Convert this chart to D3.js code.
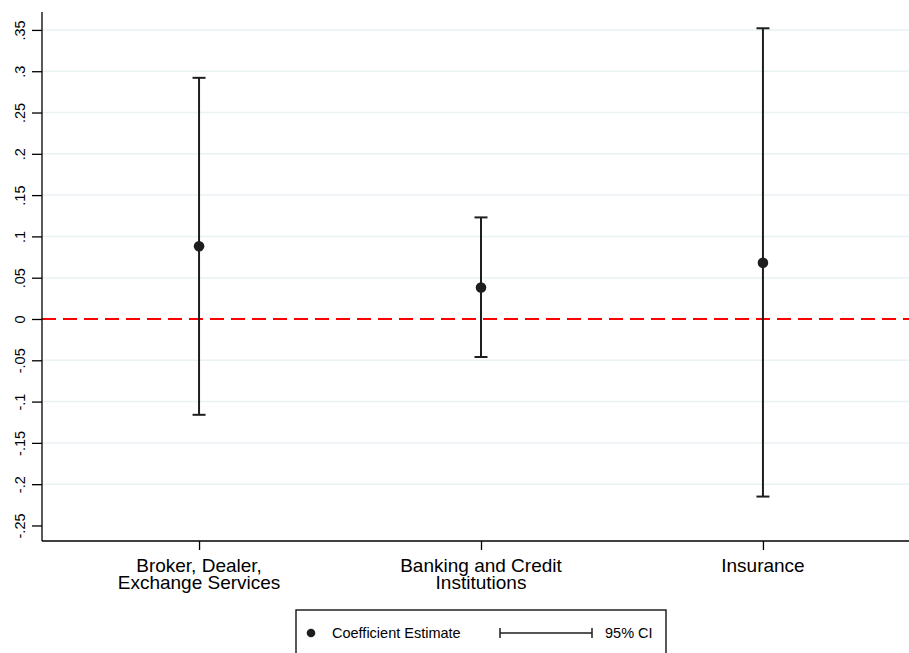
<!DOCTYPE html>
<html>
<head>
<meta charset="utf-8">
<script src="https://cdn.jsdelivr.net/npm/d3@7"></script>
<style>
  body { margin: 0; background: #fff; }
  text { font-family: "Liberation Sans", Arial, sans-serif; fill: #000; }
</style>
</head>
<body>
<div id="chart"></div>
<script>
// dados
const categorias = [["Broker, Dealer,", "Exchange Services"], ["Banking and Credit", "Institutions"], ["Insurance"]];
const estimativas = [0.088, 0.038, 0.068];
const limiteInf = [-0.116, -0.046, -0.215];
const limiteSup = [0.292, 0.123, 0.352];
const ticksY = [-0.25, -0.2, -0.15, -0.1, -0.05, 0, 0.05, 0.1, 0.15, 0.2, 0.25, 0.3, 0.35];

const width = 909, height = 653;
const esq = 42, dir = 909, topo = 12, base = 541;

const svg = d3.select("#chart").append("svg")
    .attr("width", width)
    .attr("height", height);

const x = d3.scaleLinear().domain([0.443, 3.518]).range([esq, dir]);
const y = d3.scaleLinear().domain([-0.2688, 0.3717]).range([base, topo]);

// formato estilo Stata: .35, -.05, 0 (hífen normal, não o sinal unicode)
const fmt = v => v === 0 ? "0" : String(+v.toFixed(2)).replace(/^(-?)0\./, "$1.");

// linhas de grade (menos em 0 e no mínimo)
svg.append("g")
    .selectAll("line")
    .data(ticksY.filter(t => t !== 0 && t !== -0.25))
    .join("line")
    .attr("x1", esq).attr("x2", dir)
    .attr("y1", d => y(d)).attr("y2", d => y(d))
    .attr("stroke", "#eaf2f3")
    .attr("stroke-width", 1.5);

// linha de referência em zero
svg.append("line")
    .attr("x1", esq).attr("x2", dir)
    .attr("y1", y(0)).attr("y2", y(0))
    .attr("stroke", "#ff0000")
    .attr("stroke-width", 2)
    .attr("stroke-dasharray", "14,7");

// eixo y
const eixoY = svg.append("g")
    .attr("transform", `translate(${esq},0)`)
    .call(d3.axisLeft(y).tickValues(ticksY).tickSize(10).tickFormat(fmt));
eixoY.select(".domain").attr("d", `M0,${topo}V${base}`).attr("stroke", "#000").attr("stroke-width", 1.3);
eixoY.selectAll(".tick line").attr("stroke", "#000").attr("stroke-width", 1.3);
eixoY.selectAll(".tick text")
    .attr("font-size", 14.5)
    .attr("text-anchor", "middle")
    .attr("x", 0).attr("y", 0).attr("dy", 0)
    .attr("transform", "translate(-17,0) rotate(-90)");

// eixo x
const eixoX = svg.append("g")
    .attr("transform", `translate(0,${base})`)
    .call(d3.axisBottom(x).tickValues([1, 2, 3]).tickSize(9).tickFormat(""));
eixoX.select(".domain").attr("d", `M${esq},0H${dir}`).attr("stroke", "#000").attr("stroke-width", 1.3);
eixoX.selectAll(".tick line").attr("stroke", "#000").attr("stroke-width", 1.3);

svg.append("g")
    .selectAll("text")
    .data(categorias)
    .join("text")
    .attr("x", (d, i) => x(i + 1))
    .attr("y", 572)
    .attr("text-anchor", "middle")
    .attr("font-size", 19)
    .selectAll("tspan")
    .data(d => d)
    .join("tspan")
    .attr("x", function() { return d3.select(this.parentNode).attr("x"); })
    .attr("dy", (d, i) => i === 0 ? 0 : 17)
    .text(d => d);

// barras de erro
const barras = svg.append("g").attr("stroke", "#1e1e1e").attr("stroke-width", 2);
estimativas.forEach((e, i) => {
    const cx = x(i + 1);
    barras.append("line").attr("x1", cx).attr("x2", cx).attr("y1", y(limiteInf[i])).attr("y2", y(limiteSup[i]));
    barras.append("line").attr("x1", cx - 6.5).attr("x2", cx + 6.5).attr("y1", y(limiteInf[i])).attr("y2", y(limiteInf[i]));
    barras.append("line").attr("x1", cx - 6.5).attr("x2", cx + 6.5).attr("y1", y(limiteSup[i])).attr("y2", y(limiteSup[i]));
});

svg.append("g")
    .selectAll("circle")
    .data(estimativas)
    .join("circle")
    .attr("cx", (d, i) => x(i + 1))
    .attr("cy", d => y(d))
    .attr("r", 5.3)
    .attr("fill", "#1e1e1e");

// legenda
const leg = svg.append("g");
leg.append("rect")
    .attr("x", 296).attr("y", 610)
    .attr("width", 370).attr("height", 60)
    .attr("fill", "#fff").attr("stroke", "#000").attr("stroke-width", 1.3);
leg.append("circle").attr("cx", 311).attr("cy", 633).attr("r", 4.3).attr("fill", "#1e1e1e");
leg.append("text").attr("x", 332).attr("y", 638).attr("font-size", 14.5).text("Coefficient Estimate");
leg.append("line").attr("x1", 500).attr("x2", 592).attr("y1", 633).attr("y2", 633)
    .attr("stroke", "#1e1e1e").attr("stroke-width", 1.5);
leg.append("line").attr("x1", 500).attr("x2", 500).attr("y1", 628).attr("y2", 638)
    .attr("stroke", "#1e1e1e").attr("stroke-width", 1.5);
leg.append("line").attr("x1", 592).attr("x2", 592).attr("y1", 628).attr("y2", 638)
    .attr("stroke", "#1e1e1e").attr("stroke-width", 1.5);
leg.append("text").attr("x", 605).attr("y", 638).attr("font-size", 14.5).text("95% CI");
</script>
</body>
</html>
